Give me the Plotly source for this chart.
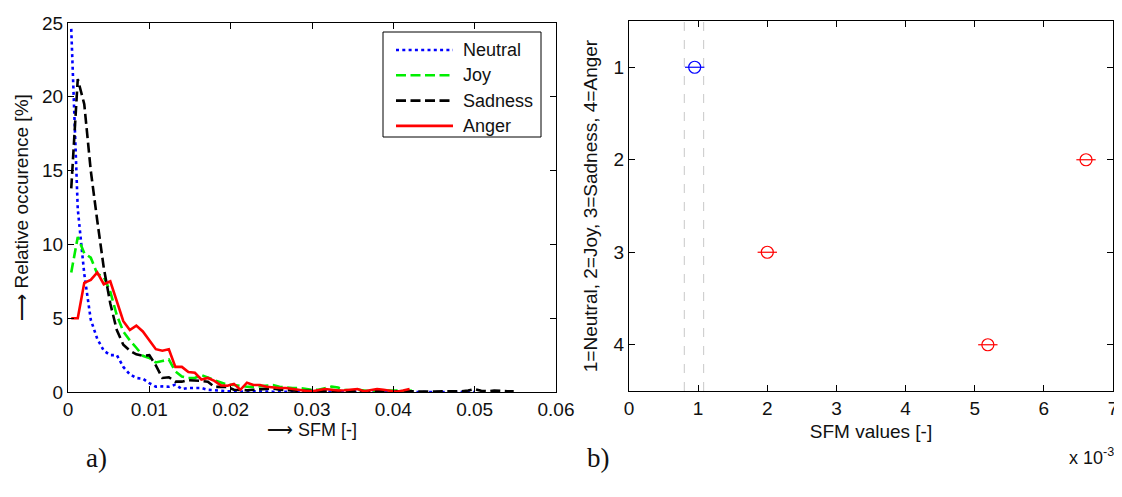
import plotly.graph_objects as go

# ---------------- data: panel a) histogram of SFM ----------------
sfm_bins = [0.0004, 0.0012, 0.0020, 0.0028, 0.0036, 0.0044, 0.0052, 0.0060, 0.0068, 0.0076,
            0.0084, 0.0092, 0.0100, 0.0108, 0.0116, 0.0124, 0.0132, 0.0140, 0.0148, 0.0156,
            0.0164, 0.0172, 0.0180, 0.0188, 0.0196, 0.0204, 0.0212, 0.0220, 0.0228, 0.0236,
            0.0244, 0.0252, 0.0260, 0.0268, 0.0276, 0.0284, 0.0292, 0.0300, 0.0308, 0.0316,
            0.0324, 0.0332, 0.0340, 0.0348, 0.0356, 0.0364, 0.0372, 0.0380, 0.0388, 0.0396,
            0.0404, 0.0412, 0.0420, 0.0428, 0.0436, 0.0444, 0.0452, 0.0460, 0.0468, 0.0476,
            0.0484, 0.0492, 0.0500, 0.0508, 0.0516, 0.0524, 0.0532, 0.0540, 0.0548]

neutral = [24.6, 12.4, 8.0, 4.9, 3.6, 2.8, 2.5, 2.5, 1.7, 1.2,
           0.95, 0.9, 0.6, 0.36, 0.38, 0.36, 0.5, 0.2, 0.27, 0.27,
           0.27, 0.15, 0.1, 0.08, 0.05, 0.05, 0.02, 0.05, 0.03, 0.02,
           0.03, 0.02, 0.0, 0.02, 0.0, 0.02, 0.0, 0.01, 0.0, 0.01,
           0.0, 0.0, 0.01, 0.0, 0.0, 0.0, 0.01, 0.0, 0.0, 0.0,
           0.0, 0.0, 0.0, 0.0, 0.0, 0.0, 0.0, 0.0, 0.0, 0.0,
           0.0, 0.0, 0.0]

joy = [8.1, 10.5, 9.4, 9.1, 8.0, 7.8, 6.8, 5.2, 4.1, 3.5,
       3.0, 2.45, 2.3, 2.0, 2.1, 2.2, 1.4, 1.05, 0.95, 0.95,
       1.15, 0.95, 0.8, 0.65, 0.5, 0.47, 0.4, 0.36, 0.35, 0.4,
       0.45, 0.47, 0.35, 0.3, 0.27, 0.27, 0.2, 0.15, 0.15, 0.25,
       0.36, 0.3, 0.15, 0.1, 0.15, 0.1, 0.05, 0.1, 0.1, 0.15,
       0.1, 0.05, 0.1, 0.05]

sadness = [13.8, 21.2, 19.5, 15.0, 11.6, 8.4, 6.0, 4.2, 3.2, 2.8,
           2.55, 2.45, 2.5, 1.8, 0.95, 1.0, 0.7, 0.7, 0.8, 0.8,
           0.75, 0.7, 0.35, 0.35, 0.35, 0.15, 0.13, 0.12, 0.15, 0.2,
           0.25, 0.25, 0.15, 0.1, 0.1, 0.08, 0.1, 0.08, 0.06, 0.08,
           0.1, 0.08, 0.06, 0.05, 0.08, 0.06, 0.05, 0.06, 0.05, 0.04,
           0.05, 0.04, 0.05, 0.04, 0.03, 0.04, 0.03, 0.05, 0.04, 0.03,
           0.05, 0.1, 0.2, 0.08, 0.05, 0.1, 0.06, 0.05, 0.04]

anger = [5.0, 5.0, 7.4, 7.6, 8.1, 7.3, 7.5, 6.2, 4.8, 4.2,
         4.5, 4.1, 3.5, 2.9, 2.8, 2.9, 1.7, 1.7, 1.35, 1.3,
         0.85, 0.95, 0.75, 0.45, 0.42, 0.55, 0.15, 0.63, 0.47, 0.47,
         0.35, 0.3, 0.27, 0.27, 0.2, 0.15, 0.08, 0.05, 0.12, 0.2,
         0.15, 0.1, 0.12, 0.18, 0.2, 0.05, 0.15, 0.2, 0.15, 0.08,
         0.02, 0.1, 0.2]

x_ticks_a = [0, 0.01, 0.02, 0.03, 0.04, 0.05, 0.06]
x_ticklabels_a = ["0", "0.01", "0.02", "0.03", "0.04", "0.05", "0.06"]
y_ticks_a = [0, 5, 10, 15, 20, 25]

# ---------------- data: panel b) group means with intervals ----------------
group_ids = [1, 2, 3, 4]
group_means_e3 = [0.95, 6.61, 2.00, 5.19]        # SFM values, x 10^-3
group_halfwidth_e3 = [0.14, 0.14, 0.14, 0.14]
group_colors = ["#0000ff", "#ff0000", "#ff0000", "#ff0000"]
ref_interval_e3 = [0.80, 1.08]
x_ticks_b = [0, 1, 2, 3, 4, 5, 6, 7]

FONT = "Liberation Sans, Arial, Helvetica, sans-serif"
SERIF = "Liberation Serif, Times New Roman, serif"
TXT = "#111111"

# The page body has an 8px margin: layout positions are given in window pixels
# and converted to paper fractions of the (offset) figure.
OFF = 8
W, H = 1122 - OFF, 497 - 2 * OFF


def px(x):
    return (x - OFF) / W


def py(y):
    return 1 - (y - OFF) / H


fig = go.Figure()

series = [
    ("Neutral", neutral, "#0000ff", "3px,3.3px"),
    ("Joy", joy, "#00ee00", "10px,4.5px"),
    ("Sadness", sadness, "#000000", "10px,4.5px"),
    ("Anger", anger, "#ff0000", "solid"),
]
for name, vals, col, dash in series:
    fig.add_trace(go.Scatter(
        x=sfm_bins[:len(vals)], y=vals, name=name, mode="lines", showlegend=False,
        line=dict(color=col, width=2.6, dash=dash),
        xaxis="x", yaxis="y"))

for gid, m, hw, col in zip(group_ids, group_means_e3, group_halfwidth_e3, group_colors):
    fig.add_trace(go.Scatter(
        x=[m], y=[gid], mode="markers", showlegend=False,
        marker=dict(symbol="circle-open", size=12, color=col, line=dict(width=1.2, color=col)),
        error_x=dict(type="data", array=[hw], color=col, thickness=1.2, width=0),
        xaxis="x2", yaxis="y2"))

for xv in ref_interval_e3:
    fig.add_shape(type="line", xref="x2", yref="y2 domain", x0=xv, x1=xv, y0=0, y1=1,
                  line=dict(color="#c8c8c8", width=1, dash="dash"), layer="below")

# ---- legend drawn as a boxed key (MATLAB style, long line samples) ----
leg_left, leg_right, leg_top, leg_bottom = 383, 541, 32, 137
fig.add_shape(type="rect", xref="paper", yref="paper",
              x0=px(leg_left), x1=px(leg_right), y0=py(leg_bottom), y1=py(leg_top),
              line=dict(color="black", width=1), fillcolor="white", layer="above")
for i, (name, vals, col, dash) in enumerate(series):
    yy = 50 + i * 25.3
    fig.add_shape(type="line", xref="paper", yref="paper",
                  x0=px(396), x1=px(453), y0=py(yy), y1=py(yy),
                  line=dict(color=col, width=2.6, dash=dash), layer="above")
    fig.add_annotation(text=name, xref="paper", yref="paper", x=px(461), y=py(yy),
                       xanchor="left", yanchor="middle", showarrow=False,
                       font=dict(family=FONT, size=18, color=TXT))

axis_common = dict(showline=True, linecolor="black", linewidth=1.2, mirror="ticks",
                   ticks="inside", ticklen=6, tickcolor="black", showgrid=False,
                   zeroline=False, automargin=False,
                   tickfont=dict(family=FONT, size=19, color=TXT))

fig.update_layout(
    width=W, height=H,
    margin=dict(l=0, r=0, t=0, b=0),
    paper_bgcolor="white", plot_bgcolor="white",
    font=dict(family=FONT, size=19, color=TXT),
    showlegend=False,
    xaxis=dict(domain=[px(68), px(556)], anchor="y", range=[0, 0.06],
               tickvals=x_ticks_a, ticktext=x_ticklabels_a,
               title=dict(text="⟶ SFM [-]", font=dict(family=FONT, size=18), standoff=0),
               **axis_common),
    yaxis=dict(domain=[py(392), py(23)], anchor="x", range=[0, 25],
               tickvals=y_ticks_a,
               title=dict(text="⟶ Relative occurence [%]", font=dict(family=FONT, size=19), standoff=8),
               **axis_common),
    xaxis2=dict(domain=[px(629), px(1113)], anchor="y2", range=[0, 7],
                tickvals=x_ticks_b, ticklabeloverflow="allow",
                title=dict(text="SFM values [-]", font=dict(family=FONT, size=19), standoff=6),
                **axis_common),
    yaxis2=dict(domain=[py(391), py(21)], anchor="x2", range=[4.5, 0.5],
                tickvals=group_ids,
                title=dict(text="1=Neutral, 2=Joy, 3=Sadness, 4=Anger", font=dict(family=FONT, size=19), standoff=10),
                **axis_common),
)

fig.add_annotation(text="x 10<sup>-3</sup>", xref="paper", yref="paper",
                   x=px(1116), y=py(456), xanchor="right", yanchor="middle",
                   showarrow=False, font=dict(family=FONT, size=18, color=TXT))
fig.add_annotation(text="a)", xref="paper", yref="paper", x=px(96), y=py(458),
                   xanchor="center", yanchor="middle", showarrow=False,
                   font=dict(family=SERIF, size=27, color=TXT))
fig.add_annotation(text="b)", xref="paper", yref="paper", x=px(598), y=py(458),
                   xanchor="center", yanchor="middle", showarrow=False,
                   font=dict(family=SERIF, size=27, color=TXT))

fig.write_html("out.html")
